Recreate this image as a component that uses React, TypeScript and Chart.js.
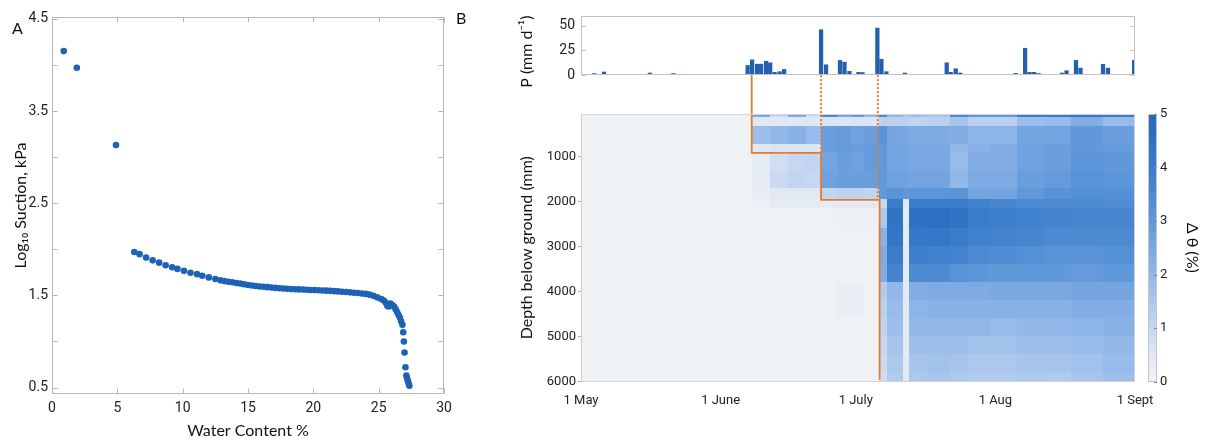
import React, { useEffect, useRef } from 'react';
import { Chart, registerables } from 'chart.js';

Chart.register(...registerables);

// ---------- Panel A: water retention ----------
const waterContent = [
  0.9, 1.9, 4.9, 6.3, 6.7, 7.2, 7.7, 8.2, 8.7, 9.2, 9.6, 10.1, 10.6, 11.1, 11.5, 12.0, 12.5, 12.9,
  13.2, 13.5, 13.8, 14.1, 14.4, 14.7, 15.0, 15.3, 15.6, 15.9, 16.2, 16.5, 16.8, 17.1, 17.4, 17.7,
  18.0, 18.3, 18.6, 18.9, 19.2, 19.5, 19.8, 20.1, 20.4, 20.7, 21.0, 21.3, 21.6, 21.9, 22.2, 22.5,
  22.8, 23.1, 23.4, 23.7, 24.0, 24.3, 24.6, 24.9, 25.2, 25.4, 25.55, 25.66, 25.75, 25.9, 26.05,
  26.18, 26.3, 26.41, 26.52, 26.62, 26.72, 26.82, 26.88, 26.93, 26.98, 27.05, 27.12, 27.18, 27.24,
  27.3, 27.35,
];
const logSuction = [
  4.15, 3.97, 3.13, 1.97, 1.947, 1.91, 1.88, 1.855, 1.826, 1.805, 1.787, 1.766, 1.745, 1.73, 1.713,
  1.695, 1.677, 1.663, 1.655, 1.648, 1.642, 1.635, 1.628, 1.62, 1.613, 1.607, 1.602, 1.597, 1.593,
  1.589, 1.585, 1.581, 1.577, 1.574, 1.571, 1.569, 1.567, 1.565, 1.563, 1.561, 1.559, 1.557, 1.555,
  1.553, 1.551, 1.549, 1.546, 1.543, 1.539, 1.536, 1.533, 1.529, 1.525, 1.521, 1.516, 1.508, 1.495,
  1.478, 1.46, 1.445, 1.42, 1.387, 1.38, 1.41, 1.395, 1.376, 1.35, 1.32, 1.29, 1.26, 1.22, 1.18,
  1.1, 1.0, 0.88, 0.72, 0.63, 0.6, 0.57, 0.54, 0.52,
];

// ---------- Panel B: rainfall ----------
const rainDay = [
  2.95, 5.1, 15.3, 20.5, 37.0, 38.0, 39.1, 40.0, 41.1, 42.0, 43.0, 44.1, 45.1, 48.2, 53.3, 54.4,
  55.4, 57.5, 58.5, 59.6, 61.6, 62.5, 65.8, 66.7, 67.8, 71.9, 72.9, 81.2, 82.1, 83.2, 84.2, 86.4,
  87.3, 92.3, 96.5, 98.6, 99.6, 100.6, 101.6, 106.8, 107.8, 109.9, 110.9, 115.9, 117.0, 119.2, 122.8,
];
const rainMm = [
  1.5, 3, 2, 1.5, 9.7, 15.4, 11, 11, 14, 12.4, 2.7, 3.4, 5.7, 0.5, 46, 10.4,
  0.4, 14.8, 13, 3.7, 2.7, 2.5, 47.7, 16, 3.4, 2, 0.4, 12.4, 2.7, 6.4, 2, 0.4,
  0.4, 0.4, 1.7, 27.2, 2.7, 2.7, 1.5, 2, 4.4, 14.8, 7, 10.8, 7, 0.4, 14.8,
];
const rainTicks = [0, 25, 50];

// ---------- Panel B: soil moisture change ----------
const dateTickDays = [0, 31, 61, 92, 123];
const dateTickLabels = ['1 May', '1 June', '1 July', '1 Aug', '1 Sept'];
const depthTicks = [1000, 2000, 3000, 4000, 5000, 6000];
const colorbarTicks = [0, 1, 2, 3, 4, 5];

const cellDayEdges = [0, 38, 42, 46, 50, 53.3, 57, 60, 63, 66.3, 68, 71.5, 73, 77, 82, 86, 91, 97, 103, 109, 116, 123];
const cellDepthEdges = [50, 130, 330, 720, 900, 1300, 1700, 1950, 2150, 2600, 3000, 3400, 3800, 4200, 4600, 5000, 5400, 5800, 6000];
const deltaTheta = [
  [0, 2.5, 1.0, 2.5, 0.8, 3.5, 2.5, 3.0, 2.0, 3.5, 2.0, 1.5, 1.8, 1.5, 3.5, 3.0, 3.0, 4.0, 4.0, 4.2, 4.0],
  [0, 0.5, 0.5, 0.5, 0.5, 0.6, 0.6, 0.6, 0.6, 1.2, 1.2, 1.2, 1.1, 1.2, 1.6, 1.2, 1.2, 1.8, 1.9, 2.3, 1.9],
  [0, 1.8, 2.0, 2.2, 1.9, 2.8, 2.9, 2.7, 2.8, 3.2, 2.6, 2.5, 2.4, 2.4, 2.3, 2.1, 2.1, 2.6, 2.6, 3.0, 2.8],
  [0, 0.5, 0.6, 0.6, 0.6, 2.8, 2.9, 2.8, 2.9, 3.0, 2.6, 2.6, 2.5, 2.5, 2.0, 2.2, 2.3, 2.7, 2.8, 3.0, 2.9],
  [0, 0.3, 0.8, 1.0, 1.1, 2.6, 2.8, 2.7, 2.9, 3.0, 2.6, 2.6, 2.5, 2.5, 1.9, 2.3, 2.3, 2.7, 2.8, 3.1, 3.0],
  [0, 0.3, 0.9, 1.1, 1.0, 2.7, 2.8, 2.8, 2.8, 3.0, 2.7, 2.7, 2.6, 2.6, 2.0, 2.4, 2.4, 2.8, 2.9, 3.2, 3.1],
  [0, 0.2, 0.5, 0.5, 0.5, 1.1, 1.2, 1.2, 1.1, 3.0, 3.2, 3.0, 3.1, 3.1, 3.2, 2.6, 2.6, 3.0, 3.2, 3.3, 3.3],
  [0, 0.1, 0.3, 0.3, 0.3, 0.3, 0.4, 0.4, 0.4, 1.0, 4.0, 0.5, 4.0, 4.0, 4.0, 3.8, 3.6, 3.5, 3.5, 3.5, 3.4],
  [0, 0, 0, 0, 0, 0, 0.1, 0.1, 0.1, 1.5, 4.4, 0.4, 4.5, 4.6, 4.4, 4.0, 3.9, 3.8, 3.7, 3.6, 3.6],
  [0, 0, 0, 0, 0, 0, 0, 0, 0, 2.2, 4.3, 0.4, 4.2, 4.2, 4.0, 3.8, 3.7, 3.6, 3.5, 3.5, 3.5],
  [0, 0, 0, 0, 0, 0, 0, 0, 0, 2.4, 4.0, 0.4, 3.9, 3.8, 3.7, 3.5, 3.4, 3.3, 3.2, 3.2, 3.3],
  [0, 0, 0, 0, 0, 0, 0, 0, 0, 2.3, 3.7, 0.4, 3.5, 3.5, 3.2, 3.1, 3.0, 3.0, 3.0, 2.9, 3.0],
  [0, 0, 0, 0, 0, 0, 0.2, 0.2, 0, 1.4, 2.0, 0.4, 2.3, 2.4, 2.4, 2.4, 2.5, 2.5, 2.5, 2.6, 2.6],
  [0, 0, 0, 0, 0, 0, 0.2, 0.2, 0, 1.2, 1.9, 0.4, 2.1, 2.2, 2.2, 2.2, 2.2, 2.2, 2.2, 2.3, 2.3],
  [0, 0, 0, 0, 0, 0, 0, 0, 0, 1.1, 1.8, 0.4, 2.0, 2.0, 2.0, 2.0, 1.9, 2.0, 2.0, 2.1, 2.2],
  [0, 0, 0, 0, 0, 0, 0, 0, 0, 1.0, 1.6, 0.4, 1.8, 1.8, 1.8, 1.7, 1.7, 1.8, 1.8, 1.9, 2.0],
  [0, 0, 0, 0, 0, 0, 0, 0, 0, 0.9, 1.5, 0.4, 1.6, 1.7, 1.6, 1.5, 1.5, 1.6, 1.6, 1.7, 1.9],
  [0, 0, 0, 0, 0, 0, 0, 0, 0, 0.8, 1.4, 0.4, 1.5, 1.6, 1.5, 1.4, 1.4, 1.5, 1.4, 1.6, 1.8],
];

// wetting front (solid) and rain pulses (dotted)
const frontDay = [37.9, 37.9, 53.3, 53.3, 66.3, 66.3];
const frontDepth = [-815, 916, 916, 1960, 1960, 5960];
const pulse2Day = [53.3, 53.3];
const pulse2Depth = [-815, 916];
const pulse3Day = [65.9, 65.9];
const pulse3Depth = [-815, 1960];

// ---------- styles ----------
const BLUE = '#1d62b5';
const BAR_BLUE = '#2161ae';
const ORANGE = '#e8792b';
const TICK_FONT = { family: 'Roboto, "Liberation Sans", sans-serif', size: 14 };
const SMALL_TICK_FONT = { family: 'Roboto, "Liberation Sans", sans-serif', size: 13 };
const TITLE_FAMILY = 'Lato, "Open Sans", sans-serif';
const CMAP_POS = [0, 0.5, 1, 2, 3, 4, 5];
const CMAP = [
  [238, 242, 245],
  [225, 232, 244],
  [198, 215, 241],
  [146, 184, 233],
  [96, 152, 218],
  [56, 124, 202],
  [36, 104, 188],
];

function cmapColor(v: number): string {
  const x = Math.max(0, Math.min(5, v));
  let i = 0;
  while (i < CMAP_POS.length - 2 && x > CMAP_POS[i + 1]) i++;
  const t = (x - CMAP_POS[i]) / (CMAP_POS[i + 1] - CMAP_POS[i]);
  const c = CMAP[i].map((a, k) => Math.round(a + (CMAP[i + 1][k] - a) * t));
  return `rgb(${c[0]},${c[1]},${c[2]})`;
}

type TickSpec = { scale: string; len: number; both: boolean };

function makeFrame(id: string, color: string, specs: TickSpec[]) {
  return {
    id,
    afterDatasetsDraw(chart: any) {
      const { ctx, chartArea: a } = chart;
      ctx.save();
      ctx.strokeStyle = color;
      ctx.lineWidth = 1;
      const l = Math.round(a.left) + 0.5;
      const t = Math.round(a.top) + 0.5;
      const r = Math.round(a.right) - 0.5;
      const b = Math.round(a.bottom) - 0.5;
      ctx.strokeRect(l, t, r - l, b - t);
      ctx.beginPath();
      specs.forEach((sp) => {
        const s = chart.scales[sp.scale];
        s.ticks.forEach((tk: any) => {
          const p = Math.round(s.getPixelForValue(tk.value)) + 0.5;
          if (s.isHorizontal()) {
            ctx.moveTo(p, b);
            ctx.lineTo(p, b - sp.len);
            if (sp.both) {
              ctx.moveTo(p, t);
              ctx.lineTo(p, t + sp.len);
            }
          } else {
            ctx.moveTo(l, p);
            ctx.lineTo(l + sp.len, p);
            if (sp.both) {
              ctx.moveTo(r, p);
              ctx.lineTo(r - sp.len, p);
            }
          }
        });
      });
      ctx.stroke();
      ctx.restore();
    },
  };
}

const heatmapPlugin = {
  id: 'heatmap',
  beforeDatasetsDraw(chart: any) {
    const { ctx, chartArea: a, scales } = chart;
    const xs = scales.x;
    const ys = scales.y;
    ctx.save();
    ctx.beginPath();
    ctx.rect(a.left, a.top, a.right - a.left, a.bottom - a.top);
    ctx.clip();
    for (let r = 0; r < deltaTheta.length; r++) {
      const y0 = Math.floor(ys.getPixelForValue(cellDepthEdges[r]));
      const y1 = Math.ceil(ys.getPixelForValue(cellDepthEdges[r + 1]));
      for (let c = 0; c < deltaTheta[r].length; c++) {
        const x0 = Math.floor(xs.getPixelForValue(cellDayEdges[c]));
        const x1 = Math.ceil(xs.getPixelForValue(cellDayEdges[c + 1]));
        ctx.fillStyle = cmapColor(deltaTheta[r][c]);
        ctx.fillRect(x0, y0, x1 - x0, y1 - y0);
      }
    }
    ctx.restore();
  },
};

const colorbarPlugin = {
  id: 'colorbar',
  afterDraw(chart: any) {
    const s = chart.scales.yc;
    const ctx = chart.ctx;
    const x0 = Math.round(s.left) + 13;
    const w = 9;
    const yTop = Math.round(s.getPixelForValue(colorbarTicks[colorbarTicks.length - 1]));
    const yBot = Math.round(s.getPixelForValue(colorbarTicks[0]));
    const g = ctx.createLinearGradient(0, yBot, 0, yTop);
    CMAP_POS.forEach((p) => g.addColorStop(p / 5, cmapColor(p)));
    ctx.save();
    ctx.fillStyle = g;
    ctx.fillRect(x0, yTop, w, yBot - yTop);
    ctx.strokeStyle = '#c4c4c4';
    ctx.lineWidth = 1;
    ctx.strokeRect(x0 + 0.5, yTop + 0.5, w - 1, yBot - yTop - 1);
    ctx.beginPath();
    s.ticks.forEach((tk: any) => {
      const p = Math.round(s.getPixelForValue(tk.value)) + 0.5;
      ctx.moveTo(x0 + w, p);
      ctx.lineTo(x0 + w - 3, p);
    });
    ctx.strokeStyle = '#8a8a8a';
    ctx.stroke();
    ctx.restore();
  },
};

export default function App() {
  const aRef = useRef<HTMLCanvasElement>(null);
  const pRef = useRef<HTMLCanvasElement>(null);
  const hRef = useRef<HTMLCanvasElement>(null);

  useEffect(() => {
    const charts: Chart[] = [];

    // Panel A
    charts.push(
      new Chart(aRef.current as HTMLCanvasElement, {
        type: 'scatter',
        data: {
          datasets: [
            {
              data: waterContent.map((x, i) => ({ x, y: logSuction[i] })),
              backgroundColor: BLUE,
              borderColor: BLUE,
              borderWidth: 0,
              pointRadius: 3.3,
              pointHoverRadius: 3.3,
            },
          ],
        },
        options: {
          responsive: false,
          maintainAspectRatio: false,
          animation: false,
          devicePixelRatio: 1,
          events: [],
          layout: { padding: { left: 0, right: 26, top: 17, bottom: 0 } },
          plugins: { legend: { display: false }, tooltip: { enabled: false } },
          scales: {
            x: {
              type: 'linear',
              min: 0,
              max: 30,
              grid: { display: false, drawTicks: false },
              border: { display: false },
              ticks: { stepSize: 5, font: TICK_FONT, color: '#222', padding: 6, maxRotation: 0 },
              title: {
                display: true,
                text: 'Water Content %',
                color: '#111',
                font: { family: TITLE_FAMILY, size: 16, lineHeight: 1 },
                padding: { top: 0, bottom: 0 },
              },
              afterFit: (s: any) => {
                s.height = 45;
              },
            },
            y: {
              type: 'linear',
              min: 0.43,
              max: 4.52,
              grid: { display: false, drawTicks: false },
              border: { display: false },
              ticks: {
                stepSize: 0.5,
                includeBounds: false,
                font: TICK_FONT,
                color: '#222',
                padding: 4,
                callback: (v: any) => (Math.round(Number(v) * 2) % 2 === 1 ? Number(v).toFixed(1) : ''),
              },
              title: {
                display: true,
                text: 'Log₁₀ Suction, kPa',
                color: '#111',
                font: { family: TITLE_FAMILY, size: 16 },
                padding: { top: 11, bottom: 0 },
              },
              afterFit: (s: any) => {
                s.width = 52;
              },
            },
          },
        },
        plugins: [
          makeFrame('frameA', '#b8b8b8', [
            { scale: 'x', len: 5, both: true },
            { scale: 'y', len: 5, both: true },
          ]),
        ],
      } as any)
    );

    // Panel B rainfall
    charts.push(
      new Chart(pRef.current as HTMLCanvasElement, {
        type: 'bar',
        data: {
          datasets: [
            {
              data: rainDay.map((x, i) => ({ x, y: rainMm[i] })),
              backgroundColor: BAR_BLUE,
              borderWidth: 0,
              barThickness: 3.6,
            },
          ],
        },
        options: {
          responsive: false,
          maintainAspectRatio: false,
          animation: false,
          devicePixelRatio: 1,
          events: [],
          layout: { padding: { left: 0, right: 70, top: 16, bottom: 35 } },
          plugins: { legend: { display: false }, tooltip: { enabled: false } },
          scales: {
            x: { type: 'linear', min: 0, max: 123, offset: false, display: false },
            y: {
              type: 'linear',
              min: 0,
              max: 60,
              afterBuildTicks: (s: any) => {
                s.ticks = rainTicks.map((v) => ({ value: v }));
              },
              grid: { display: false, drawTicks: false },
              border: { display: false },
              ticks: { font: TICK_FONT, color: '#222', padding: 6 },
              title: {
                display: true,
                text: 'P (mm d⁻¹)   ',
                color: '#111',
                font: { family: TITLE_FAMILY, size: 16 },
                padding: { top: 17, bottom: 0 },
              },
              afterFit: (s: any) => {
                s.width = 81;
              },
            },
          },
        },
        plugins: [makeFrame('frameP', '#c2c2c2', [{ scale: 'y', len: 4, both: true }])],
      } as any)
    );

    // Panel B heatmap
    const line = (xs: number[], ys: number[], dash: number[], width: number) => ({
      type: 'line',
      data: xs.map((x, i) => ({ x, y: ys[i] })),
      borderColor: ORANGE,
      borderWidth: width,
      borderDash: dash,
      pointRadius: 0,
      fill: false,
      tension: 0,
      clip: false,
      xAxisID: 'x',
      yAxisID: 'y',
    });
    charts.push(
      new Chart(hRef.current as HTMLCanvasElement, {
        type: 'line',
        data: {
          datasets: [
            line(pulse2Day, pulse2Depth, [2, 2], 2),
            line(pulse3Day, pulse3Depth, [2, 2], 2),
            line(frontDay, frontDepth, [], 1.8),
          ],
        },
        options: {
          responsive: false,
          maintainAspectRatio: false,
          animation: false,
          devicePixelRatio: 1,
          events: [],
          layout: { padding: { left: 0, right: 0, top: 44, bottom: 0 } },
          plugins: { legend: { display: false }, tooltip: { enabled: false } },
          scales: {
            x: {
              type: 'linear',
              min: 0,
              max: 123,
              afterBuildTicks: (s: any) => {
                s.ticks = dateTickDays.map((v) => ({ value: v }));
              },
              grid: { display: false, drawTicks: false },
              border: { display: false },
              ticks: {
                font: SMALL_TICK_FONT,
                color: '#222',
                padding: 11,
                maxRotation: 0,
                autoSkip: false,
                callback: (_v: any, i: number) => dateTickLabels[i],
              },
              afterFit: (s: any) => {
                s.height = 57.5;
              },
            },
            y: {
              type: 'linear',
              reverse: true,
              min: 50,
              max: 6000,
              afterBuildTicks: (s: any) => {
                s.ticks = depthTicks.map((v) => ({ value: v }));
              },
              grid: { display: true, drawOnChartArea: false, drawTicks: true, tickLength: 3, color: '#b0b0b0' },
              border: { display: false },
              ticks: { font: SMALL_TICK_FONT, color: '#222', padding: 2, callback: (v: any) => String(v) },
              title: {
                display: true,
                text: 'Depth below ground (mm)',
                color: '#111',
                font: { family: TITLE_FAMILY, size: 16 },
                padding: { top: 17.4, bottom: 0 },
              },
              afterFit: (s: any) => {
                s.width = 81;
              },
            },
            yc: {
              type: 'linear',
              position: 'right',
              min: 0,
              max: 5,
              afterBuildTicks: (s: any) => {
                s.ticks = colorbarTicks.map((v) => ({ value: v }));
              },
              grid: { display: false, drawTicks: false },
              border: { display: false },
              ticks: { font: SMALL_TICK_FONT, color: '#222', padding: 25, callback: (v: any) => String(v) },
              title: {
                display: true,
                text: 'Δ θ (%)',
                color: '#111',
                font: { family: TITLE_FAMILY, size: 16 },
                padding: { top: 3.4, bottom: 0 },
              },
              afterFit: (s: any) => {
                s.width = 70;
              },
            },
          },
        },
        plugins: [heatmapPlugin, makeFrame('frameH', '#d2d2d2', []), colorbarPlugin],
      } as any)
    );

    return () => charts.forEach((c) => c.destroy());
  }, []);

  const abs = (left: number, top: number, w: number, h: number): React.CSSProperties => ({
    position: 'absolute',
    left,
    top,
    width: w,
    height: h,
  });

  return (
    <div
      style={{
        position: 'absolute',
        left: 0,
        top: 0,
        width: 1205,
        height: 439,
        background: '#ffffff',
        overflow: 'hidden',
        fontFamily: TITLE_FAMILY,
      }}
    >
      <canvas ref={aRef} width={470} height={439} style={abs(0, 0, 470, 439)} />
      <canvas ref={pRef} width={705} height={110} style={abs(500, 0, 705, 110)} />
      <canvas ref={hRef} width={705} height={369} style={abs(500, 70, 705, 369)} />
      <div style={{ position: 'absolute', left: 12, top: 19, fontSize: 16, lineHeight: '18px', color: '#111' }}>A</div>
      <div style={{ position: 'absolute', left: 456, top: 9, fontSize: 16, lineHeight: '18px', color: '#111' }}>B</div>
    </div>
  );
}
